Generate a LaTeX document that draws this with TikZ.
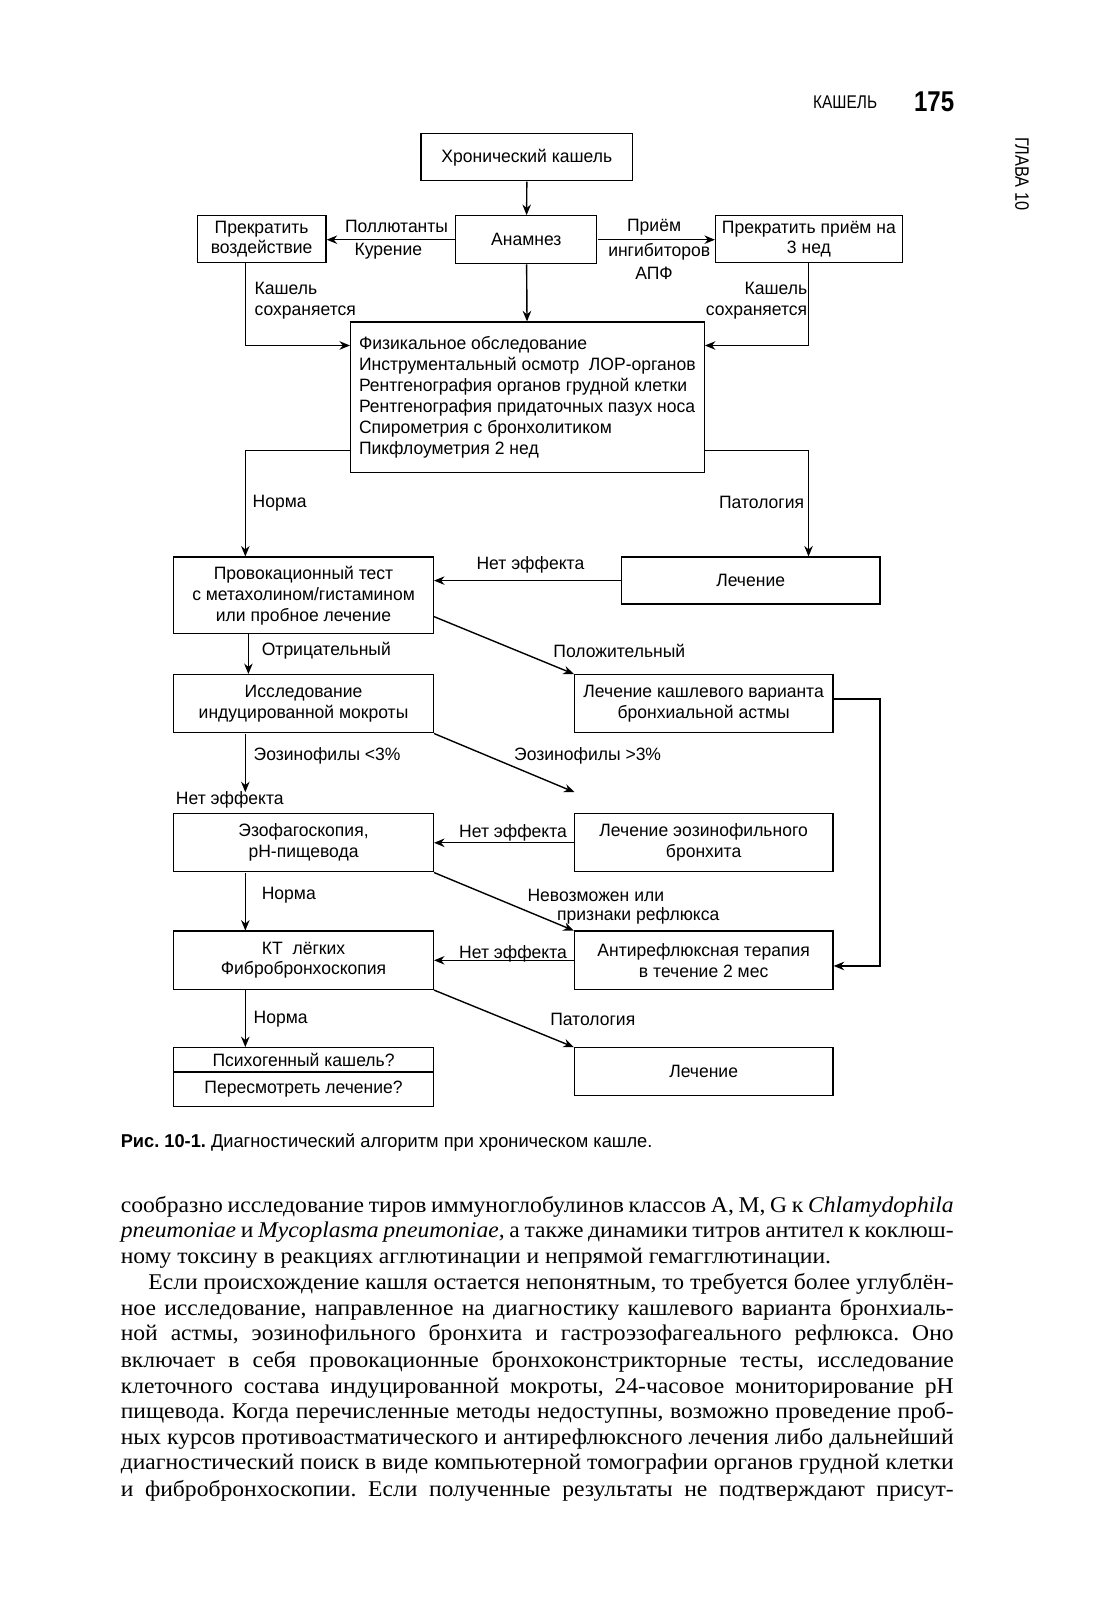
\documentclass[tikz,border=0pt]{standalone}
\usepackage{fontspec}
\setmainfont{Liberation Serif}
\newfontfamily\dsans[FakeStretch=0.98]{Liberation Sans}
\newfontfamily\hsans[FakeStretch=0.84]{Liberation Sans}
\newfontfamily\csans[FakeStretch=0.98]{Liberation Sans}
\newfontfamily\bserif[FakeStretch=1.05]{Liberation Serif}
\usetikzlibrary{arrows.meta,calc}
\frenchspacing
\begin{document}
\begin{tikzpicture}[x=1pt,y=-1pt,scale=1.022,every node/.append style={transform shape},
  box/.style={draw, line width=1.2pt, inner sep=0pt, align=center, font=\dsans\fontsize{17.5}{20.5}\selectfont},
  lbl/.style={inner sep=0pt, align=center, font=\dsans\fontsize{17.5}{20.5}\selectfont},
  arr/.style={line width=1.4pt, -{Stealth[length=10.5pt,width=8.5pt]}},
  bodyline/.style={anchor=base west, inner sep=0pt, font=\bserif\fontsize{22}{25}\selectfont\frenchspacing},
]
\useasboundingbox (0,0) rectangle (1076.32,1565.56);
\fill[white] (0,0) rectangle (1076.32,1565.56);

% header
\node[inner sep=0pt, font=\hsans\fontsize{18}{20}\selectfont] (hdr) at (827,100) {КАШЕЛЬ};
\node[inner sep=0pt, font=\hsans\bfseries\fontsize{28}{30}\selectfont] (pg) at (914,100) {175};
\node[inner sep=0pt, rotate=-90, font=\hsans\fontsize{19}{21}\selectfont] (chap) at (1000,170) {ГЛАВА 10};

% boxes
\node[box, minimum width=207pt, minimum height=46pt] (chronic) at (515.5,154) {Хронический кашель};
\node[box, minimum width=138pt, minimum height=47pt] (anam) at (515,234.5) {Анамнез};
\node[box, minimum width=126pt, minimum height=46pt] (stop) at (256,234) {Прекратить\\воздействие};
\node[box, minimum width=183pt, minimum height=46pt] (stopace) at (791.5,234) {Прекратить приём на\\3 нед};
\node[box, minimum width=346pt, minimum height=147pt, align=left] (phys) at (516,388.5)
  {Физикальное обследование\\Инструментальный осмотр\ \ ЛОР-органов\\Рентгенография органов грудной клетки\\Рентгенография придаточных пазух носа\\Спирометрия с бронхолитиком\\Пикфлоуметрия 2 нед};
\node[box, minimum width=254pt, minimum height=75pt] (prov) at (297,582.5) {Провокационный тест\\с метахолином/гистамином\\или пробное лечение};
\node[box, minimum width=253pt, minimum height=46pt] (treat1) at (734.5,568) {Лечение};
\node[box, minimum width=254pt, minimum height=57pt] (sputum) at (297,688.5) {Исследование\\индуцированной мокроты};
\node[box, minimum width=253pt, minimum height=57pt] (asthma) at (688.5,688.5) {Лечение кашлевого варианта\\бронхиальной астмы};
\node[box, minimum width=254pt, minimum height=57pt] (eso) at (297,824.5) {Эзофагоскопия,\\pH-пищевода};
\node[box, minimum width=253pt, minimum height=57pt] (eosin) at (688.5,824.5) {Лечение эозинофильного\\бронхита};
\node[box, minimum width=254pt, minimum height=57pt] (ct) at (297,939.5) {КТ\ \ лёгких\\Фибробронхоскопия};
\node[box, minimum width=253pt, minimum height=57pt] (antireflux) at (688.5,939.5) {Антирефлюксная терапия\\в течение 2 мес};
\node[box, minimum width=254pt, minimum height=24pt] (psychA) at (297,1037) {Психогенный кашель?};
\node[box, minimum width=254pt, minimum height=34pt] (psychB) at (297,1066) {Пересмотреть лечение?};
\node[box, minimum width=253pt, minimum height=47pt] (treat2) at (688.5,1048.5) {Лечение};

% coordinates
\coordinate (cL1) at (240,338);
\coordinate (cR1) at (791,338);
\coordinate (cL2) at (240,441);
\coordinate (cR2) at (791,441);
\coordinate (cA) at (243,620);
\coordinate (cP) at (424,603);
\coordinate (cB) at (861,684);
\coordinate (cC) at (861,945);
\coordinate (cS) at (240,775);
\coordinate (cE) at (562,775);

% connectors
\draw[arr] (chronic) -- (anam);
\draw[arr] (anam.west) -- (anam.west -| stop.east);
\draw[arr] (anam.east) -- (anam.east -| stopace.west);
\draw[arr] (stop.south -| cL1) -- (cL1) -- (cL1 -| phys.west);
\draw[arr] (stopace.south -| cR1) -- (cR1) -- (cR1 -| phys.east);
\draw[arr] (anam) -- (phys);
\draw[arr] (cL2 -| phys.west) -- (cL2) -- (cL2 |- prov.north);
\draw[arr] (cR2 -| phys.east) -- (cR2) -- (cR2 |- treat1.north);
\draw[arr] (treat1.west) -- (treat1.west -| prov.east);
\draw[arr] (cA) -- (cA |- sputum.north);
\draw[arr] (cP) -- (asthma.north west);
\draw[arr] (asthma.east |- cB) -- (cB) -- (cC) -- (cC -| antireflux.east);
\draw[arr] (sputum.south -| cS) -- (cS);
\draw[arr] (sputum.south east) -- (cE);
\draw[arr] (eosin.west) -- (eso.east);
\draw[arr] (eso.south -| cS) -- (ct.north -| cS);
\draw[arr] (eso.south east) -- (antireflux.north west);
\draw[arr] (antireflux.west) -- (ct.east);
\draw[arr] (ct.south -| cS) -- (psychA.north -| cS);
\draw[arr] (ct.south east) -- (treat2.north west);

% labels
\node[lbl] (l1) at (388,222) {Поллютанты};
\node[lbl] (l2) at (380,246) {Курение};
\node[lbl] (l3) at (640,222) {Приём};
\node[lbl] (l4) at (645,246) {ингибиторов};
\node[lbl] (l5) at (640,267) {АПФ};
\node[lbl, anchor=west, align=left] (l6) at (249,294) {Кашель\\сохраняется};
\node[lbl, anchor=east, align=right] (l7) at (790,294) {Кашель\\сохраняется};
\node[lbl, anchor=west] (l8) at (247,492) {Норма};
\node[lbl, anchor=east] (l9) at (787,492) {Патология};
\node[lbl] (l10) at (519,553) {Нет эффекта};
\node[lbl, anchor=west] (l11) at (256,637) {Отрицательный};
\node[lbl] (l12) at (606,637) {Положительный};
\node[lbl, anchor=west] (l13) at (248,740) {Эозинофилы <3\%};
\node[lbl] (l14) at (575,740) {Эозинофилы >3\%};
\node[lbl, anchor=west] (l15) at (172,783) {Нет эффекта};
\node[lbl] (l16) at (502,815) {Нет эффекта};
\node[lbl, anchor=west] (l17) at (256,876) {Норма};
\node[lbl, anchor=west] (l18) at (516,876) {Невозможен или};
\node[lbl, anchor=west] (l19) at (545,896) {признаки рефлюкса};
\node[lbl] (l20) at (502,933) {Нет эффекта};
\node[lbl, anchor=west] (l21) at (248,997) {Норма};
\node[lbl] (l22) at (580,997) {Патология};

% caption
\node[anchor=base west, inner sep=0pt, font=\csans\fontsize{18.2}{20}\selectfont] (cap) at (118,1123)
  {{\bfseries Рис. 10-1.} Диагностический алгоритм при хроническом кашле.};

% body text
\node[bodyline] (t1) at (118,1186) {\hbox to 815pt{сообразно исследование тиров иммуноглобулинов классов A, M, G к {\itshape Chlamydophila}}};
\node[bodyline] (t2) at (118,1211) {\hbox to 815pt{{\itshape pneumoniae} и {\itshape Mycoplasma pneumoniae,} а также динамики титров антител к коклюш-}};
\node[bodyline] (t3) at (118,1236) {ному токсину в реакциях агглютинации и непрямой гемагглютинации.};
\node[bodyline] (t4) at (145,1262) {\hbox to 788pt{Если происхождение кашля остается непонятным, то требуется более углублён-}};
\node[bodyline] (t5) at (118,1287) {\hbox to 815pt{ное исследование, направленное на диагностику кашлевого варианта бронхиаль-}};
\node[bodyline] (t6) at (118,1312) {\hbox to 815pt{ной астмы, эозинофильного бронхита и гастроэзофагеального рефлюкса. Оно}};
\node[bodyline] (t7) at (118,1338) {\hbox to 815pt{включает в себя провокационные бронхоконстрикторные тесты, исследование}};
\node[bodyline] (t8) at (118,1363) {\hbox to 815pt{клеточного состава индуцированной мокроты, 24-часовое мониторирование pH}};
\node[bodyline] (t9) at (118,1388) {\hbox to 815pt{пищевода. Когда перечисленные методы недоступны, возможно проведение проб-}};
\node[bodyline] (t10) at (118,1413) {\hbox to 815pt{ных курсов противоастматического и антирефлюксного лечения либо дальнейший}};
\node[bodyline] (t11) at (118,1438) {\hbox to 815pt{диагностический поиск в виде компьютерной томографии органов грудной клетки}};
\node[bodyline] (t12) at (118,1464) {\hbox to 815pt{и фибробронхоскопии. Если полученные результаты не подтверждают присут-}};
\end{tikzpicture}
\end{document}
